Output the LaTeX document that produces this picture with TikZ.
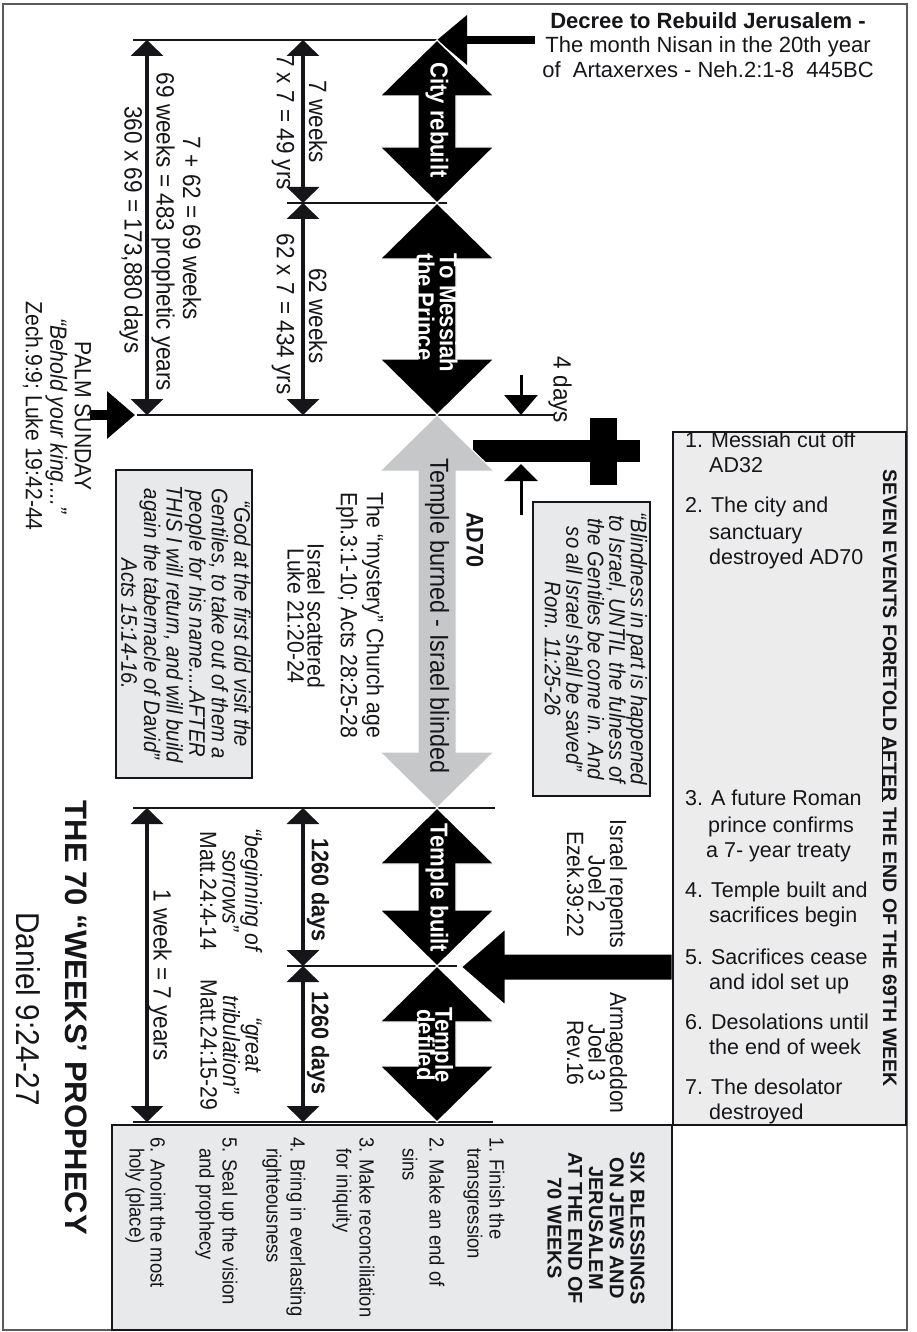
\documentclass[tikz,border=0pt]{standalone}
\usepackage{fontspec}
\setmainfont{Liberation Sans}
\newfontfamily\cond[FakeStretch=0.9]{Liberation Sans}
\usetikzlibrary{arrows.meta}
\definecolor{boxgray}{RGB}{232,233,234}
\definecolor{evgray}{RGB}{236,236,236}
\definecolor{arrgray}{RGB}{198,199,201}
\definecolor{framecol}{RGB}{90,90,90}
\definecolor{ink}{RGB}{22,22,26}
\lineskiplimit=-40pt
\lineskip=0pt
\newcommand{\dblarr}[4]{%
  \filldraw[#4] (#1,#2) -- ++(57,56) -- ++(-38,0) -- (#1+19,#3-56) -- ++(38,0)
    -- (#1,#3) -- ++(-57,-56) -- ++(38,0) -- (#1-19,#2+56) -- ++(-38,0) -- cycle;}
\tikzset{
  hline/.style={draw=ink, line width=1.6pt},
  dimarr/.style={draw=ink, line width=3.5pt,
     {Triangle[length=16pt,width=32pt]}-{Triangle[length=16pt,width=32pt]}},
  rt/.style={rotate=-90, inner sep=0pt, align=center, text=ink},
  lab/.style={rt, font=\cond\fontsize{25}{30}\selectfont},
  blab/.style={rt, font=\cond\bfseries\fontsize{24}{30}\selectfont},
  wlab/.style={rt, text=white, font=\cond\bfseries\fontsize{24.5}{#1}\selectfont},
  wlab/.default=22,
  mlab/.style={rt, font=\cond\fontsize{23.5}{#1}\selectfont},
  mlab/.default=24,
  qt/.style={rt, font=\cond\itshape\fontsize{22.5}{#1}\selectfont},
  qt/.default=22.5,
  boxnode/.style={draw=ink, line width=2pt, fill=boxgray, inner sep=0pt},
  evt/.style={inner sep=0pt, text=ink, font=\fontsize{21.5}{25}\selectfont},
  bl/.style={rt, font=\cond\fontsize{20.5}{22}\selectfont}
}
\begin{document}
\begin{tikzpicture}[x=1pt,y=-1pt]
\useasboundingbox (0,0) rectangle (916,1332);
\fill[white] (0,0) rectangle (916,1332);
% frame
\draw[framecol, line width=2.5pt] (3,4) rectangle (907,1330);

% horizontal reference lines
\coordinate (ha1) at (133,40);  \coordinate (hb1) at (437,40);
\coordinate (ha2) at (287,203); \coordinate (hb2) at (447,203);
\coordinate (ha3) at (137,415); \coordinate (hb3) at (555,415);
\coordinate (ha4) at (133,808); \coordinate (hb4) at (495,808);
\coordinate (ha5) at (287,966); \coordinate (hb5) at (457,966);
\coordinate (ha6) at (133,1122);\coordinate (hb6) at (493,1122);
\foreach \i in {1,...,6} \draw[hline] (ha\i) -- (hb\i);

% decree arrow
\coordinate (da) at (535,40);
\draw[black, line width=7.5pt, -{Triangle[length=30pt,width=48pt]}] (da) -- (hb1);

% palm sunday arrow
\coordinate (pa) at (90,415); \coordinate (pb) at (135,415);
\draw[black, line width=10pt, -{Triangle[length=28pt,width=46pt]}] (pa) -- (pb);

% 4 days arrows
\coordinate (d4a) at (521,375); \coordinate (d4b) at (521,415);
\coordinate (d4c) at (521,515); \coordinate (d4d) at (521,464);
\draw[black, line width=3pt, -{Triangle[length=20pt,width=33pt]}] (d4a) -- (d4b);
\draw[black, line width=3pt, -{Triangle[length=17pt,width=33pt]}] (d4c) -- (d4d);

% cross
\fill[black] (473,440) rectangle (640,462);
\fill[black] (590,418) rectangle (617,485);

% big double arrows
\dblarr{437}{415}{808}{fill=arrgray, draw=white, line width=1pt}
\dblarr{437}{40}{203}{fill=black, draw=white, line width=1.3pt}
\dblarr{437}{203}{415}{fill=black, draw=white, line width=1.3pt}
\dblarr{437}{808}{966}{fill=black, draw=white, line width=1.3pt}
\dblarr{437}{966}{1122}{fill=black, draw=white, line width=1.3pt}

% dimension arrows
\coordinate (la1) at (147,40);  \coordinate (la2) at (147,415);
\coordinate (ma1) at (303,40);  \coordinate (ma2) at (303,203); \coordinate (ma3) at (303,415);
\coordinate (lb1) at (147,808); \coordinate (lb2) at (147,1122);
\coordinate (mb1) at (303,808); \coordinate (mb2) at (303,966); \coordinate (mb3) at (303,1122);
\draw[dimarr] (la1) -- (la2);
\draw[dimarr] (ma1) -- (ma2);
\draw[dimarr] (ma2) -- (ma3);
\draw[dimarr] (lb1) -- (lb2);
\draw[dimarr] (mb1) -- (mb2);
\draw[dimarr] (mb2) -- (mb3);

% events arrow (from the seven events box)
\coordinate (evtip) at (460,967);
\filldraw[fill=black, draw=white, line width=3pt, line join=miter]
  (evtip) -- ++(46,-40) -- ++(0,26) -- ++(167,0) -- ++(0,28) -- ++(-167,0) -- ++(0,26) -- cycle;

% boxes
\node[boxnode, minimum width=136pt, minimum height=308pt] (acts) at (184,624) {};
\node[boxnode, minimum width=117pt, minimum height=294pt] (rom) at (591.5,649) {};
\node[boxnode, fill=evgray, minimum width=233pt, minimum height=693pt] (ev) at (789.5,778.5) {};
\node[boxnode, minimum width=560pt, minimum height=205pt] (sb) at (392,1227.5) {};

% decree text
\node[inner sep=0pt, align=center, text=ink, font=\fontsize{22}{24.5}\selectfont] (decree) at (708,45)
  {\textbf{Decree to Rebuild Jerusalem -}\\The month Nisan in the 20th year\\of~ Artaxerxes - Neh.2:1-8~ 445BC};

% labels in arrows
\node[wlab] (city) at (437,120) {City rebuilt};
\node[wlab=23, align=left] (mess) at (437,313) {To Messiah\\the Prince};
\node[rt, font=\cond\fontsize{26}{26}\selectfont] (burn) at (437,616) {Temple burned - Israel blinded};
\node[wlab] (tbuilt) at (437,888) {Temple built};
\node[wlab=18] (tdef) at (435,1045) {Temple\\defiled};

% dimension labels
\node[lab] (w7) at (318,122) {7 weeks};
\node[lab] (y49) at (283,122) {7 x 7 = 49 yrs};
\node[lab] (w62) at (318,316) {62 weeks};
\node[lab] (y434) at (283,314) {62 x 7 = 434 yrs};
\node[lab] (s1) at (192,228) {7 + 62 = 69 weeks};
\node[lab] (s2) at (163,232) {69 weeks = 483 prophetic years};
\node[lab] (s3) at (131,230) {360 x 69 = 173,880 days};
\node[lab] (d4) at (560,390) {4 days};
\node[blab] (d1260a) at (318,890) {1260 days};
\node[blab] (d1260b) at (318,1043) {1260 days};
\node[lab] (wk) at (160,975) {1 week = 7 years};

% middle texts
\node[blab] (ad70) at (475,540) {AD70};
\node[mlab=26] (myst) at (360,615) {The “mystery” Church age\\Eph.3:1-10; Acts 28:25-28};
\node[mlab=20] (scat) at (306,616) {Israel scattered\\Luke 21:20-24};
\node[mlab=24.5] (palm) at (57,416) {PALM SUNDAY\\\textit{“Behold your king....”}\\Zech.9:9; Luke 19:42-44};
\node[mlab=22.5] (bos) at (231,891) {\textit{“beginning of}\\\textit{sorrows”}\\Matt.24:4-14};
\node[mlab=22.5] (gtr) at (231,1045) {\textit{“great}\\\textit{tribulation”}\\Matt.24:15-29};
\node[mlab=21.5] (rep) at (597,884) {Israel repents\\Joel 2\\Ezek.39:22};
\node[mlab=21.5] (arm) at (597,1053) {Armageddon\\Joel 3\\Rev.16};

% quote boxes text
\node[qt=22.6] (actstxt) at (186,624) {“God at the first did visit the\\Gentiles, to take out of them a\\people for his name....AFTER\\THIS I will return, and will build\\again the tabernacle of David”\\Acts 15:14-16.};
\node[qt=21.5] (romtxt) at (596,649) {“Blindness in part is happened\\to Israel, UNTIL the fulness of\\the Gentiles be come in. And\\so all Israel shall be saved”\\Rom. 11:25-26};

% seven events
\node[rt, font=\bfseries\fontsize{19.5}{20}\selectfont] (evtitle) at (889,778)
  {SEVEN EVENTS FORETOLD \underline{AFTER} THE END OF THE 69TH WEEK};
\foreach \x/\y/\t [count=\k] in {
 685/447/{1. Messiah cut off}, 709/472/{AD32},
 685/512/{2. The city and}, 709/539/{sanctuary}, 709/564/{destroyed AD70},
 685/805/{3. A future Roman}, 708/832/{prince confirms}, 706/857/{a 7- year treaty},
 685/897/{4. Temple built and}, 709/922/{sacrifices begin},
 685/964/{5. Sacrifices cease}, 709/989/{and idol set up},
 685/1029/{6. Desolations until}, 709/1054/{the end of week},
 685/1094/{7. The desolator}, 709/1119/{destroyed}}
 \node[evt, anchor=base west] (ev\k) at (\x,\y) {\t};

% six blessings
\node[rt, font=\bfseries\fontsize{20}{20.7}\selectfont] (sbtitle) at (596,1228)
  {SIX BLESSINGS\\ON JEWS AND\\JERUSALEM\\AT THE END OF\\70 WEEKS};
\foreach \x/\y/\t [count=\k] in {
 497/1137/{1. Finish the}, 473/1148/{transgression},
 437/1137/{2. Make an end of}, 410/1148/{sins},
 367/1137/{3. Make reconciliation}, 342/1148/{for iniquity},
 296/1137/{4. Bring in everlasting}, 272/1148/{righteousness},
 228/1137/{5. Seal up the vision}, 205/1148/{and prophecy},
 158/1137/{6. Anoint the most}, 135/1148/{holy (place)}}
 \node[bl, anchor=west] (bl\k) at (\x,\y) {\t};

% title
\node[rt, font=\bfseries\fontsize{31}{31}\selectfont] (title) at (76,1018) {THE 70 “WEEKS’ PROPHECY};
\node[rt, font=\cond\fontsize{33}{33}\selectfont] (dan) at (28,1009) {Daniel 9:24-27};
\end{tikzpicture}
\end{document}
